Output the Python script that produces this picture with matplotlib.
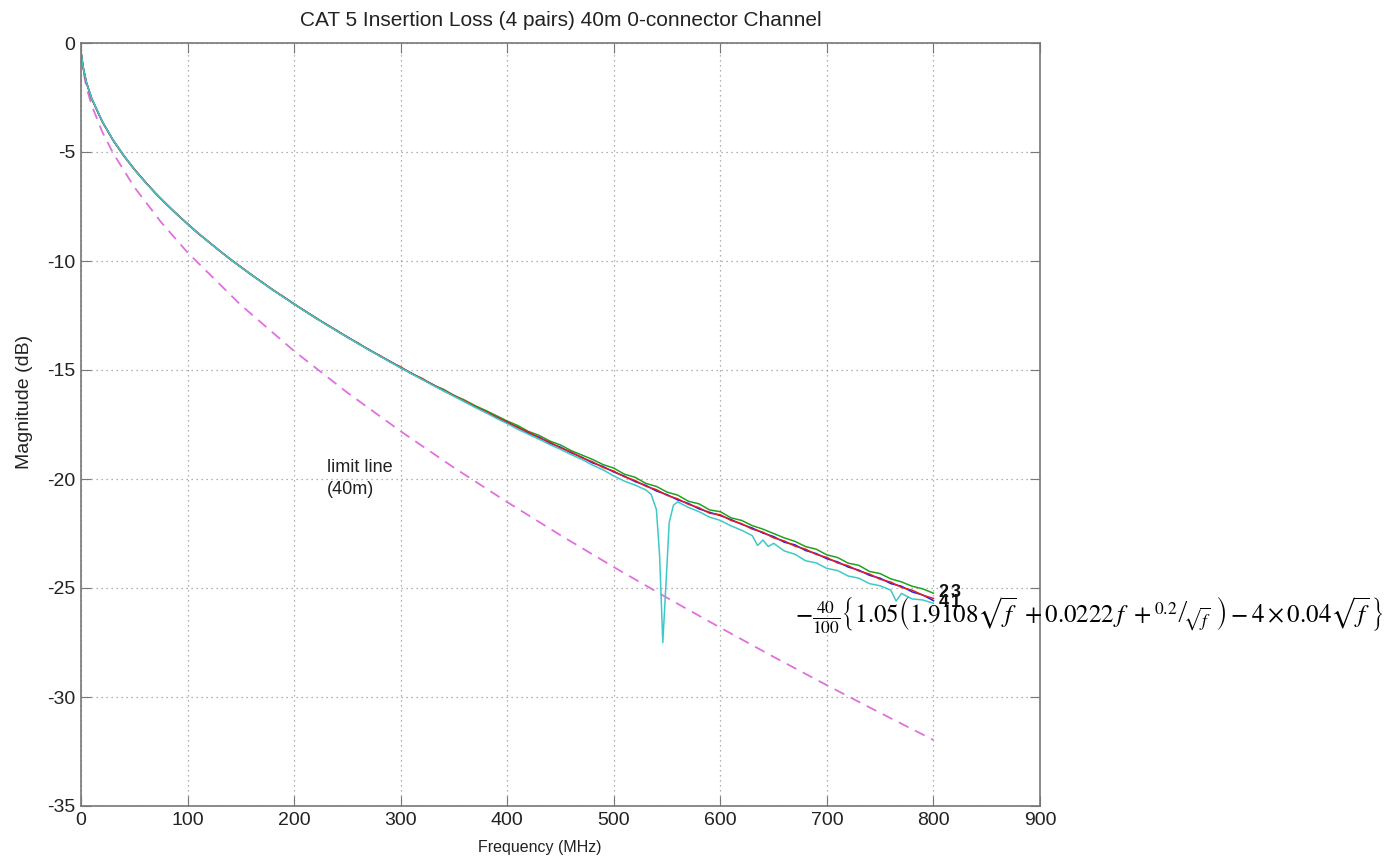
import matplotlib
matplotlib.use("Agg")
import matplotlib.pyplot as plt

plt.rcParams['font.family'] = ['Liberation Sans', 'DejaVu Sans']
plt.rcParams['mathtext.fontset'] = 'stix'
plt.rcParams['axes.unicode_minus'] = False

# ---- data ----
freq = [0, 2, 5] + list(range(10, 801, 10))

pair1 = [-0.40, -1.12, -1.80, -2.55, -3.60, -4.44, -5.15, -5.80, -6.36, -6.90, -7.38, -7.86,
         -8.30, -8.72, -9.14, -9.52, -9.92, -10.27, -10.64, -10.97, -11.33, -11.64, -11.98,
         -12.28, -12.61, -12.89, -13.21, -13.48, -13.79, -14.05, -14.35, -14.60, -14.90,
         -15.14, -15.42, -15.66, -15.95, -16.17, -16.45, -16.66, -16.94, -17.15, -17.42,
         -17.62, -17.90, -18.08, -18.36, -18.54, -18.80, -19.00, -19.26, -19.43, -19.68,
         -19.87, -20.12, -20.29, -20.55, -20.72, -20.96, -21.12, -21.37, -21.53, -21.68,
         -21.86, -22.08, -22.25, -22.48, -22.64, -22.90, -23.02, -23.28, -23.42, -23.66,
         -23.80, -24.04, -24.18, -24.42, -24.55, -24.80, -24.92, -25.18, -25.32, -25.58]

pair2 = [-0.42, -1.10, -1.79, -2.53, -3.61, -4.46, -5.16, -5.78, -6.37, -6.88, -7.40, -7.84,
         -8.31, -8.74, -9.12, -9.54, -9.90, -10.29, -10.62, -10.99, -11.31, -11.66, -11.96,
         -12.30, -12.58, -12.92, -13.18, -13.50, -13.76, -14.08, -14.32, -14.62, -14.86,
         -15.16, -15.38, -15.68, -15.88, -16.16, -16.38, -16.64, -16.86, -17.10, -17.34,
         -17.55, -17.82, -18.00, -18.26, -18.44, -18.70, -18.90, -19.10, -19.34, -19.50,
         -19.78, -19.92, -20.20, -20.34, -20.60, -20.74, -21.02, -21.14, -21.42, -21.50,
         -21.78, -21.90, -22.14, -22.30, -22.50, -22.70, -22.86, -23.10, -23.22, -23.48,
         -23.60, -23.86, -23.96, -24.24, -24.34, -24.58, -24.72, -24.92, -25.04, -25.24]

pair3 = [-0.38, -1.13, -1.81, -2.56, -3.62, -4.45, -5.17, -5.79, -6.35, -6.90, -7.38, -7.86,
         -8.29, -8.74, -9.13, -9.53, -9.92, -10.27, -10.64, -10.98, -11.33, -11.64, -11.98,
         -12.29, -12.61, -12.90, -13.19, -13.50, -13.77, -14.07, -14.33, -14.62, -14.87,
         -15.16, -15.40, -15.68, -15.92, -16.19, -16.42, -16.69, -16.91, -17.17, -17.38,
         -17.65, -17.85, -18.12, -18.31, -18.58, -18.76, -19.03, -19.21, -19.47, -19.64,
         -19.90, -20.07, -20.33, -20.49, -20.75, -20.91, -21.16, -21.32, -21.57, -21.64,
         -21.90, -22.05, -22.30, -22.44, -22.70, -22.84, -23.08, -23.22, -23.46, -23.60,
         -23.85, -23.98, -24.22, -24.36, -24.60, -24.73, -24.97, -25.10, -25.33, -25.48]

freq4 = [0, 2, 5] + list(range(10, 531, 10)) + [535, 540, 543, 546, 549, 552, 556, 560,
         570, 580, 590, 600, 610, 620, 630, 635, 640, 645, 650, 660, 670, 680, 690, 700,
         710, 720, 730, 740, 750, 760, 765, 770, 780, 790, 800]
pair4 = [-0.41, -1.11, -1.80, -2.54, -3.60, -4.44, -5.15, -5.80, -6.37, -6.89, -7.39, -7.85,
         -8.31, -8.73, -9.14, -9.53, -9.92, -10.28, -10.64, -10.99, -11.33, -11.66, -11.98,
         -12.30, -12.61, -12.91, -13.21, -13.50, -13.79, -14.07, -14.35, -14.63, -14.90,
         -15.17, -15.43, -15.70, -15.95, -16.21, -16.46, -16.72, -16.96, -17.22, -17.46,
         -17.72, -17.95, -18.18, -18.42, -18.64, -18.88, -19.10, -19.36, -19.58, -19.86,
         -20.10, -20.28, -20.50, -20.70, -21.40, -23.50, -27.50, -24.80, -22.00, -21.20,
         -21.05, -21.30, -21.50, -21.75, -21.90, -22.15, -22.35, -22.60, -23.05, -22.80,
         -23.10, -22.95, -23.30, -23.45, -23.75, -23.85, -24.10, -24.20, -24.45, -24.55,
         -24.80, -24.90, -25.10, -25.60, -25.25, -25.50, -25.55, -25.70]

limit_freq = [0.5, 1, 5, 10, 20, 30, 50, 75, 100, 150, 200, 250, 300, 350, 400, 450, 500,
              550, 600, 650, 700, 750, 800]
limit_db = [-0.60, -0.96, -2.02, -2.86, -4.08, -5.04, -6.61, -8.21, -9.61, -12.02, -14.13,
            -16.04, -17.81, -19.48, -21.06, -22.58, -24.04, -25.45, -26.82, -28.16, -29.46,
            -30.73, -31.97]

series = [(freq, pair1, '#1f1fff', '1'), (freq, pair2, '#22a022', '2'),
          (freq, pair3, '#e02020', '3'), (freq4, pair4, '#40c8c8', '4')]

fig = plt.figure(figsize=(13.84, 8.60), dpi=100)
ax = fig.add_axes([81/1384, 1-806/860, (1040-81)/1384, (806-43)/860])

ax.plot(limit_freq, limit_db, color='#e070e0', lw=1.3, ls=(0, (6, 4)))
for fx, fy, col, lab in series:
    ax.plot(fx, fy, color=col, lw=1.1)
# curve end labels (overlapping, as in the reference)
label_pos = {'1': (816, -25.65), '2': (805, -25.2), '3': (816, -25.2), '4': (805, -25.65)}
for fx, fy, col, lab in series:
    lx, ly = label_pos[lab]
    ax.text(lx, ly, lab, fontsize=13, fontweight='bold',
            color='#111111', va='center', ha='left')

ax.set_xlim(0, 900)
ax.set_ylim(-35, 0)
ax.set_xticks(range(0, 901, 100))
ax.set_yticks(range(-35, 1, 5))
ax.grid(True, ls=(0, (1, 3)), color='#999999', lw=0.9)
ax.tick_params(direction='in', length=7, top=True, right=True, labelsize=14,
               color='#777777', labelcolor='#222222', pad=4)
for s in ax.spines.values():
    s.set_color('#777777')
    s.set_linewidth(1.2)

ax.text(231, -19.1, 'limit line\n(40m)', fontsize=13, va='top', ha='left',
        color='#222222', linespacing=1.35)

ax.set_title('CAT 5 Insertion Loss (4 pairs) 40m 0-connector Channel', fontsize=15,
             color='#222222', pad=12)
ax.set_xlabel('Frequency (MHz)', fontsize=11.5, color='#222222')
ax.set_ylabel('Magnitude (dB)', fontsize=14, color='#222222')
ax.xaxis.set_label_coords(0.478, -0.045)
ax.yaxis.set_label_coords(-0.05, 0.53)

formula_tall = (r'$-\frac{40}{100}\left\{1.05\left(1.9108\sqrt{f}\ +0.0222\,f\ +'
                r'\left.{}^{0.2}\right/_{\!\!\sqrt{f}}\ \right)-4\times0.04\sqrt{f}\,\right\}$')
formula_plain = (r'$-\frac{40}{100}\left\{1.05\left(1.9108\sqrt{f}\ +0.0222\,f\ +{}^{0.2}/_{\sqrt{f}}'
                 r'\right)-4\times0.04\sqrt{f}\,\right\}$')
ftxt = fig.text(795/1384, 1-615/860, formula_tall, fontsize=18, va='center', ha='left',
                color='black')
try:
    fig.canvas.draw()
except Exception:
    ftxt.set_text(formula_plain)

fig.savefig('out.png', dpi=100, facecolor='white')
